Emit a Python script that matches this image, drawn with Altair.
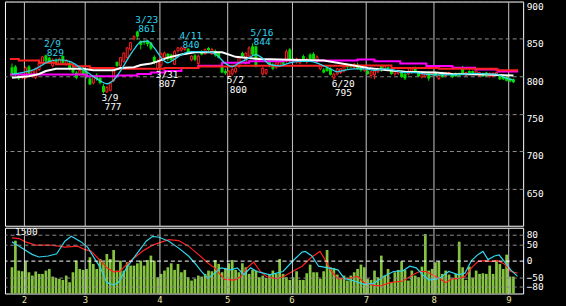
import altair as alt
import pandas as pd

# ---------------- data ----------------
opens = [812, 813, 800, 798, 798, 813, 800, 798, 809, 818,
         828, 825, 814, 822, 816, 827, 816, 818, 811, 805,
         803, 811, 806, 797, 791, 802, 798, 787, 779, 781,
         794, 819, 814, 820, 825, 836, 850, 860, 847, 846,
         848, 845, 826, 810, 815, 825, 830, 829, 816, 834,
         835, 836, 837, 822, 828, 817, 833, 830, 838, 830,
         834, 831, 813, 807, 800, 803, 806, 813, 831, 818,
         827, 840, 840, 821, 803, 804, 820, 816, 812, 814,
         822, 820, 836, 822, 819, 818, 827, 819, 829, 830,
         820, 810, 809, 812, 810, 798, 803, 805, 807, 815,
         816, 812, 816, 812, 808, 807, 801, 802, 806, 814,
         810, 812, 810, 803, 804, 807, 803, 803, 805, 812,
         805, 799, 800, 805, 803, 805, 797, 805, 801, 803,
         803, 804, 804, 812, 802, 807, 807, 803, 801, 804,
         805, 800, 800, 801, 801, 800, 799, 797, 796]
highs = [817, 815, 802, 804, 813, 815, 808, 812, 820, 827,
         829, 826, 824, 824, 825, 828, 823, 820, 813, 807,
         810, 813, 808, 799, 801, 804, 800, 790, 787, 793,
         810, 820, 826, 832, 839, 846, 855, 861, 848, 848,
         849, 846, 828, 823, 832, 833, 831, 830, 835, 839,
         840, 839, 838, 828, 830, 829, 835, 837, 839, 838,
         836, 833, 815, 810, 808, 811, 813, 826, 833, 832,
         840, 844, 841, 825, 812, 810, 821, 818, 819, 820,
         823, 836, 838, 824, 825, 824, 829, 825, 831, 832,
         828, 816, 811, 814, 812, 805, 811, 811, 815, 817,
         817, 818, 818, 813, 815, 809, 807, 808, 812, 815,
         815, 813, 811, 808, 809, 808, 804, 810, 811, 813,
         806, 804, 805, 806, 806, 806, 802, 806, 806, 806,
         804, 805, 805, 814, 806, 808, 808, 808, 806, 805,
         806, 805, 805, 806, 802, 801, 800, 798, 797]
lows = [800, 800, 795, 796, 796, 799, 798, 796, 807, 816,
        818, 817, 812, 815, 815, 816, 814, 808, 803, 796,
        801, 801, 797, 788, 789, 794, 789, 777, 778, 780,
        792, 812, 812, 818, 823, 834, 848, 849, 836, 842,
        840, 835, 816, 807, 812, 823, 820, 820, 815, 832,
        833, 834, 830, 820, 820, 815, 828, 829, 834, 829,
        826, 824, 804, 802, 800, 801, 804, 811, 826, 816,
        825, 827, 812, 819, 801, 802, 812, 808, 810, 812,
        815, 818, 818, 818, 817, 816, 819, 817, 821, 822,
        818, 808, 804, 806, 801, 795, 801, 803, 805, 810,
        811, 810, 809, 806, 806, 802, 797, 796, 804, 806,
        808, 807, 802, 801, 802, 798, 795, 801, 803, 804,
        799, 797, 798, 794, 801, 800, 795, 798, 799, 802,
        798, 799, 800, 802, 800, 802, 803, 802, 799, 799,
        800, 798, 799, 800, 795, 795, 793, 792, 791]
closes = [802, 802, 797, 802, 811, 801, 807, 810, 818, 826,
          820, 819, 822, 817, 823, 818, 821, 810, 805, 798,
          808, 803, 800, 789, 800, 796, 791, 779, 785, 791,
          809, 814, 825, 831, 838, 845, 853, 853, 842, 845,
          843, 837, 818, 820, 830, 831, 823, 822, 833, 838,
          838, 838, 831, 827, 822, 827, 829, 836, 835, 836,
          828, 825, 805, 804, 807, 809, 811, 825, 827, 831,
          838, 829, 813, 824, 811, 809, 814, 810, 818, 819,
          816, 833, 821, 820, 823, 822, 820, 823, 822, 823,
          826, 815, 805, 807, 802, 803, 810, 810, 814, 812,
          812, 816, 810, 808, 814, 803, 806, 807, 810, 808,
          814, 808, 803, 807, 808, 799, 797, 807, 810, 805,
          800, 803, 804, 797, 805, 801, 801, 799, 805, 805,
          799, 800, 801, 803, 805, 803, 804, 807, 805, 800,
          801, 804, 804, 805, 796, 796, 794, 793, 792]
volumes = [658, 1325, 575, 558, 800, 533, 450, 550, 492, 492,
           575, 617, 425, 392, 367, 342, 450, 283, 533, 825,
           617, 592, 617, 908, 742, 617, 867, 783, 992, 867,
           1092, 575, 825, 575, 783, 700, 700, 758, 825, 700,
           842, 950, 825, 408, 492, 575, 658, 758, 592, 742,
           533, 592, 408, 325, 367, 450, 425, 492, 575, 558,
           842, 742, 533, 642, 758, 842, 592, 533, 758, 658,
           492, 592, 575, 408, 450, 392, 492, 575, 492, 867,
           492, 408, 342, 408, 558, 342, 342, 508, 725, 533,
           533, 367, 558, 1092, 658, 642, 475, 367, 450, 325,
           450, 533, 617, 725, 658, 367, 342, 575, 408, 950,
           450, 617, 283, 533, 592, 808, 592, 325, 575, 450,
           408, 675, 1492, 575, 617, 783, 808, 492, 575, 475,
           367, 492, 1300, 658, 342, 675, 392, 575, 492, 508,
           492, 700, 492, 842, 742, 617, 975, 425, 425]

# moving averages (sampled along the day index)
cyan_idx = [0, 3, 7, 11, 14, 17, 20, 23, 26, 28, 30, 32, 34, 36, 38, 40, 42, 44, 46, 48,
            50, 53, 56, 59, 61, 63, 65, 67, 69, 72, 74, 76, 79, 82, 85, 88, 91, 94, 96, 98,
            101, 104, 107, 110, 113, 116, 119, 122, 125, 128, 131, 134, 137, 140, 143, 145, 148]
cyan_val = [803, 805, 810, 820, 822, 820, 812, 803, 794, 790, 795, 807, 822, 836, 846, 847, 838, 825, 818, 823,
            829, 833, 833, 832, 826, 817, 813, 818, 822, 829, 824, 816, 814, 818, 820, 820, 816, 810, 806, 808,
            810, 810, 808, 810, 808, 805, 805, 803, 802, 802, 802, 803, 804, 803, 803, 799, 795]
white_idx = [0, 5, 8, 10, 13, 21, 24, 30, 32, 36, 38, 41, 43, 46, 50, 54, 62, 66, 73, 82,
             92, 96, 100, 105, 111, 116, 125, 130, 140, 148]
white_val = [798, 800, 803, 807, 810, 810, 808, 808, 811, 812, 815, 817, 820, 825, 829, 832, 832, 826, 823, 822,
             821, 818, 815, 811, 808, 806, 805, 803, 802.5, 801]
red_idx = [-0.6, 2, 8, 13, 18, 23, 30, 45, 55, 65, 100, 112, 126, 143, 149.4]
red_val = [823, 821, 818, 816, 813.5, 811, 810, 811, 813, 814, 814.5, 811, 810, 808, 808]
mag_idx = [-0.6, 22, 31, 37, 41, 45, 50, 55, 62, 70, 80, 102, 107, 114.6, 122.3, 130, 136.7, 143.5, 149.4]
mag_val = [802.5, 800, 801, 803, 805, 807, 811, 814, 818, 820, 821, 822.4, 820.2, 817.1, 813.6, 811.3, 809, 806.4, 806.4]

# oscillator lines of the lower panel
osc_c_idx = [0, 2.1, 5.9, 7.9, 10.7, 13.2, 15.6, 17.5, 20.4, 22.3,
             24.2, 26.1, 28, 30, 31.4, 33.8, 36.7, 39.6, 41.5, 43.4,
             46.3, 49.2, 52.1, 54, 55.9, 57.9, 59.8, 61.7, 64.6, 66.5,
             68.4, 70.4, 72.3, 74.2, 76.1, 78.1, 80, 82.8, 85.6, 86.6,
             88.5, 90.5, 93.3, 96.2, 98.1, 101, 103.9, 106.8, 109.7, 112.6,
             115.4, 117.4, 119.3, 121.2, 123.2, 126.1, 128.9, 131.8, 133.7, 135.6,
             137.6, 139, 140.5, 142.4, 143.8, 145.3, 147.2, 149.2]
osc_c_val = [57, 44, 19, 11, 14, 21, 59, 74, 57, 41,
             9, -22, -67, -74, -67, -22, 19, 59, 74, 71,
             59, 38, 14, -8, -33, -54, -38, -22, -28, -22,
             -43, -22, -33, -38, -43, -38, -33, -2, 26, 28,
             14, -17, -22, -28, -54, -62, -72, -69, -48, -33,
             -31, -17, -22, -43, -59, -54, -33, -43, -38, 0,
             19, 28, 3, 14, 17, -2, -28, -48]
osc_r_idx = [0, 2.1, 4, 6.9, 11.7, 15.6, 19.4, 21.3, 23.3, 26.1,
             28, 30, 31.9, 34.8, 38.6, 41.5, 43.4, 46.3, 49.2, 52.1,
             55, 57.9, 59.8, 62.7, 65.6, 67.5, 69.4, 71.3, 73.3, 75.2,
             78.1, 80, 82.8, 85.6, 88.5, 90.9, 92.4, 94.3, 96.2, 99.1,
             102, 103.9, 106.8, 108.7, 111.6, 115.4, 118.3, 120.3, 122.2, 124.1,
             126.1, 128, 129.9, 131.8, 133.7, 135.6, 137.6, 139.5, 141.4, 143.3,
             145.3, 147.2, 149.2]
osc_r_val = [69, 67, 57, 47, 47, 41, 44, 34, 29, 0,
             -22, -34, -32, -2, 29, 47, 54, 64, 61, 44,
             19, -8, -22, -57, -59, -49, -22, -4, -33, -49,
             -55, -49, -33, -17, 11, 28, 3, -33, -55, -55,
             -48, -67, -75, -77, -67, -62, -43, -33, -33, -43,
             -54, -67, -55, -55, -48, -22, -2, 0, -2, 0,
             -10, -33, -38]

# annotations of highs / lows
ann_idx = [10, 27, 37, 43, 50, 64, 71, 95]
ann_date = ["2/9", "3/9", "3/23", "3/31", "4/11", "5/2", "5/16", "6/20"]
ann_price = [829, 777, 861, 807, 840, 800, 844, 795]
ann_kind = ["high", "low", "high", "low", "high", "low", "high", "low"]

# axes
month_bounds = [3.5, 21.5, 43.5, 63.5, 82.5, 104.5, 124.5, 146.5]
month_labels = ["2", "3", "4", "5", "6", "7", "8", "9"]
price_ticks = [650, 700, 750, 800, 850, 900]
osc_ticks = [-80, -50, 0, 50, 80]
vol_label = 1500

# ---------------- styling ----------------
FONT = "DejaVu Sans Mono"
RED = "#ff2020"
GREEN = "#00dd00"
CYAN = "#2fd4ec"
MAG = "#ff00ff"
VOLC = "#86c440"
VGRID = "#c8c8c8"
HGRID = "#8a8a8a"
YELLOW = "#ece4a4"
W, H1, H2 = 520, 225, 66
XDOM = [-0.6, 149.4]

n = len(closes)
cdf = pd.DataFrame({"i": list(range(n)), "open": opens, "high": highs,
                    "low": lows, "close": closes})
cdf["dir"] = ["up" if c >= o else "down" for o, c in zip(opens, closes)]

xscale = alt.Scale(domain=XDOM, nice=False, zero=False)
yscale = alt.Scale(domain=[600, 900], nice=False, zero=False)

x_top_axis = alt.Axis(values=month_bounds, labels=False, ticks=False, domain=False,
                      grid=True, gridColor=VGRID, gridWidth=1, title=None,
                      minExtent=0, maxExtent=0)
y_top_axis = alt.Axis(orient="right", values=price_ticks, grid=True, gridColor=HGRID,
                      gridDash=[4, 3], gridWidth=1, ticks=False, domain=False,
                      labelColor="white", labelFont=FONT, labelFontSize=9.5,
                      labelBaseline="top", labelOffset=0,
                      labelPadding=3, title=None,
                      minExtent=42, maxExtent=42)


def XT():
    return alt.X("i:Q", scale=xscale, axis=x_top_axis)


def YT(field):
    return alt.Y(field, scale=yscale, axis=y_top_axis)


wick = alt.Chart(cdf).mark_rule(strokeWidth=1).encode(
    x=XT(), y=YT("low:Q"), y2="high:Q",
    color=alt.Color("dir:N", scale=alt.Scale(domain=["up", "down"], range=[RED, GREEN]),
                    legend=None))
body_dn = alt.Chart(cdf).transform_filter("datum.dir == 'down'").mark_bar(
    size=3, color=GREEN).encode(x=XT(), y=YT("open:Q"), y2="close:Q")
body_up = alt.Chart(cdf).transform_filter("datum.dir == 'up'").mark_bar(
    size=2, fill="black", stroke=RED, strokeWidth=1).encode(
    x=XT(), y=YT("open:Q"), y2="close:Q")


def ma_line(idx, vals, color, width, interp):
    df = pd.DataFrame({"i": idx, "v": vals})
    return alt.Chart(df).mark_line(color=color, strokeWidth=width,
                                   interpolate=interp, clip=True).encode(
        x=XT(), y=YT("v:Q"))


ann = pd.DataFrame({"i": ann_idx, "p": ann_price, "d": ann_date,
                    "val": [str(v) for v in ann_price], "kind": ann_kind})


def ann_text(kind, field, dx, dy, color):
    return alt.Chart(ann).transform_filter(f"datum.kind == '{kind}'").mark_text(
        align="left", baseline="alphabetic", dx=dx, dy=dy, font=FONT,
        fontSize=9.5, color=color).encode(x=XT(), y=YT("p:Q"), text=f"{field}:N")


top = alt.layer(
    wick, body_dn, body_up,
    ma_line(mag_idx, mag_val, MAG, 2, "step-after"),
    ma_line(red_idx, red_val, RED, 2, "step-after"),
    ma_line(white_idx, white_val, "white", 2, "linear"),
    ma_line(cyan_idx, cyan_val, CYAN, 1.3, "monotone"),
    ann_text("high", "d", -2, -7.25, CYAN),
    ann_text("high", "val", 1, 1.75, CYAN),
    ann_text("low", "d", -2, 7.2, "white"),
    ann_text("low", "val", 1, 16.3, "white"),
).properties(width=W, height=H1)

# ---------------- lower panel ----------------
label_expr = ("[" + ",".join(f"'{m}'" for m in month_labels) + "][indexof(["
              + ",".join(str(b) for b in month_bounds) + "], datum.value)]")
x_bot_axis = alt.Axis(values=month_bounds, labelExpr=label_expr, ticks=False,
                      domain=False, grid=True, gridColor=VGRID, gridWidth=1,
                      labelColor=YELLOW, labelFont=FONT, labelFontSize=9,
                      labelPadding=2, labelFlush=False, title=None,
                      minExtent=13, maxExtent=13, zindex=1)


def XB():
    return alt.X("i:Q", scale=xscale, axis=x_bot_axis)


vscale = alt.Scale(domain=[0, 1650], nice=False, zero=True)
vdf = pd.DataFrame({"i": list(range(n)), "vol": volumes})
vbars = alt.Chart(vdf).mark_bar(size=2.7, color=VOLC).encode(
    x=XB(), y=alt.Y("vol:Q", scale=vscale, axis=None))
vlbl = alt.Chart(pd.DataFrame({"i": [XDOM[0]], "vol": [vol_label],
                               "t": [str(vol_label)]})).mark_text(
    align="left", baseline="middle", dx=5, dy=-1.5, font=FONT, fontSize=9.5,
    color="white").encode(x=XB(), y=alt.Y("vol:Q", scale=vscale, axis=None), text="t:N")
vol_layer = alt.layer(vbars, vlbl)

oscale = alt.Scale(domain=[-100, 100], nice=False, zero=False)
o_axis = alt.Axis(orient="right", values=osc_ticks, grid=True,
                  gridColor={"condition": {"test": "datum.value === 0", "value": "white"},
                             "value": HGRID},
                  gridDash=[4, 3], gridWidth=1, ticks=False, domain=False,
                  labelColor="white", labelFont=FONT, labelFontSize=9.5,
                  labelPadding=3, title=None, minExtent=42, maxExtent=42, zindex=1)


def osc_line(idx, vals, color):
    df = pd.DataFrame({"i": idx, "v": vals})
    return alt.Chart(df).mark_line(color=color, strokeWidth=1.2, clip=True).encode(
        x=XB(), y=alt.Y("v:Q", scale=oscale, axis=o_axis))


osc_layer = alt.layer(osc_line(osc_r_idx, osc_r_val, RED),
                      osc_line(osc_c_idx, osc_c_val, CYAN))

bottom = alt.layer(vol_layer, osc_layer).resolve_scale(y="independent").properties(
    width=W, height=H2)

chart = alt.vconcat(top, bottom, spacing=0).properties(
    padding={"left": 4, "top": 0, "right": 0, "bottom": 0},
    background="black",
).configure_view(stroke="white", strokeWidth=1)

chart.save("out.html", embed_options={"renderer": "svg", "actions": False})
